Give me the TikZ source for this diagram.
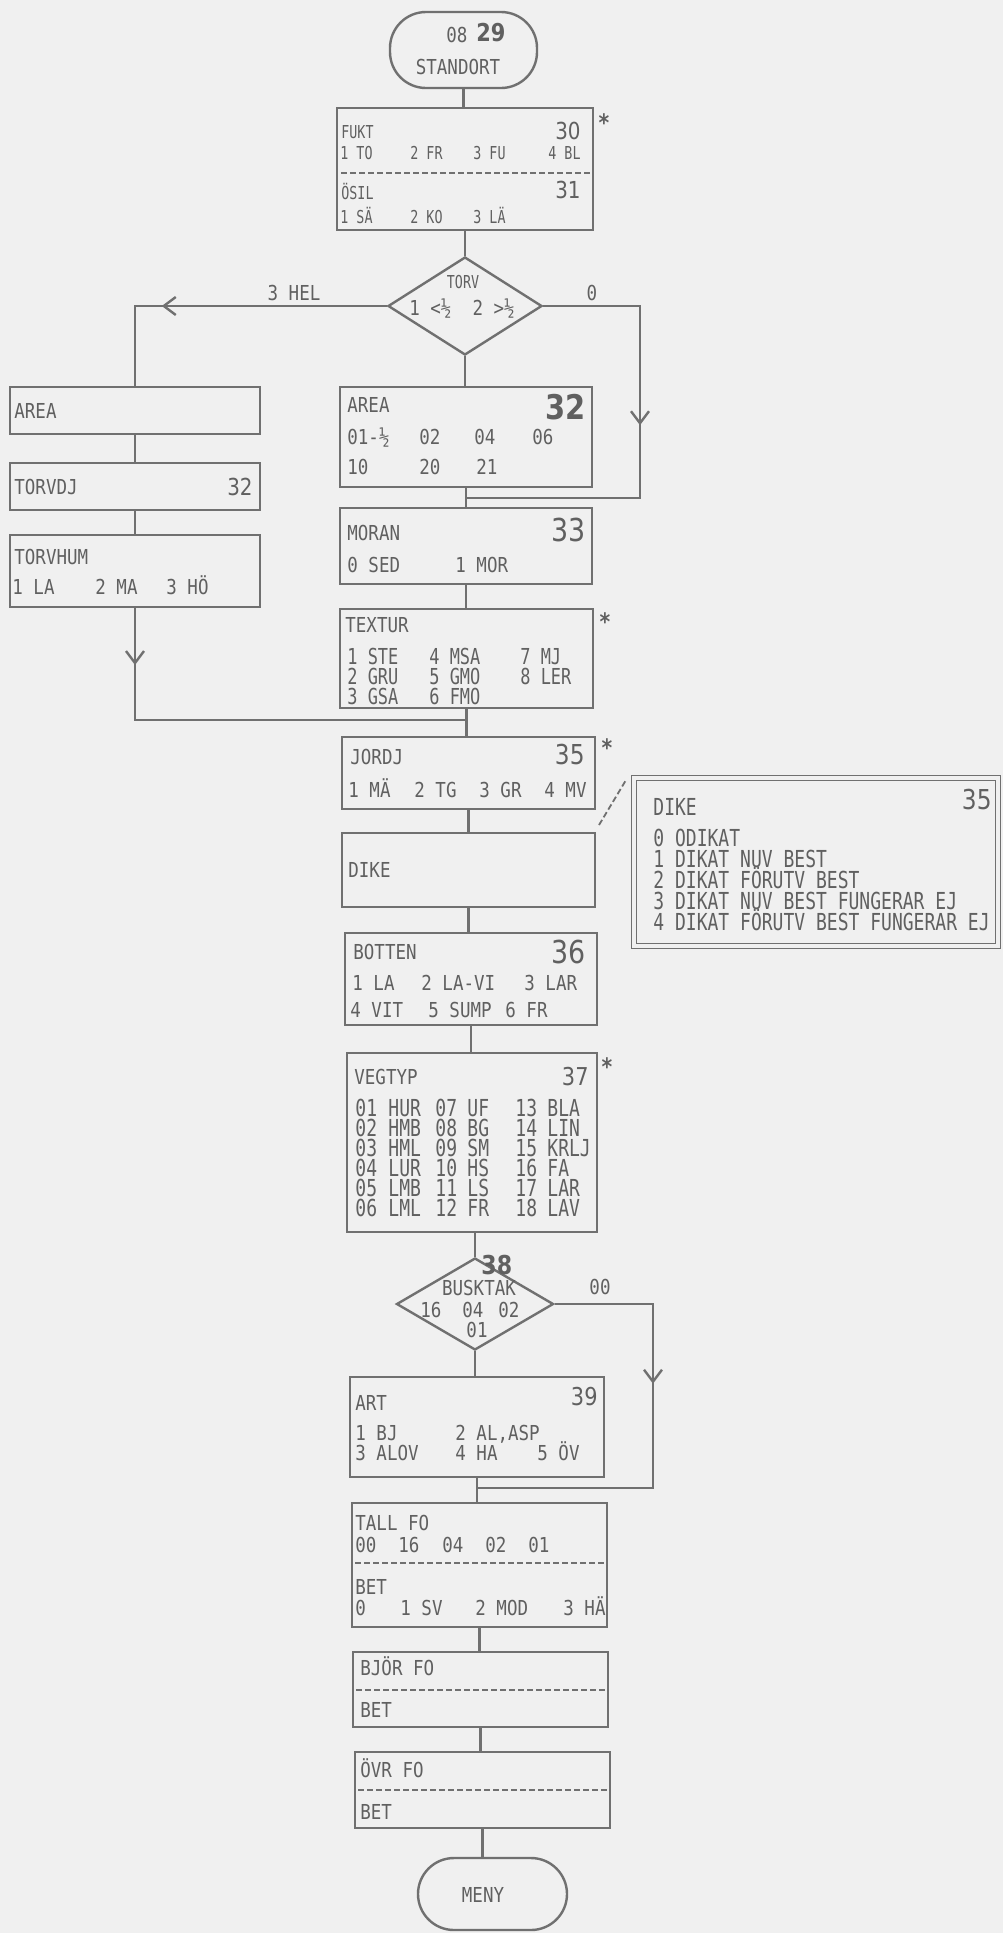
\documentclass[tikz,border=0pt]{standalone}
\usepackage{fontspec}
\usetikzlibrary{shapes.geometric,arrows.meta,decorations.markings}
\newfontfamily\fa[FakeStretch=0.85]{DejaVu Sans Mono}
\newfontfamily\fs[FakeStretch=0.75]{DejaVu Sans Mono}
\newfontfamily\fc[FakeStretch=0.77]{DejaVu Sans Mono}
\newfontfamily\fn[FakeStretch=0.85]{DejaVu Sans}
\definecolor{bgc}{RGB}{240,240,240}
\definecolor{lc}{RGB}{112,112,112}
\definecolor{tc}{RGB}{96,96,96}
\tikzset{
  ln/.style={color=lc,line width=1.2pt},
  dl/.style={color=lc,line width=0.9pt,dash pattern=on 3pt off 1.5pt},
  box/.style={draw=lc,line width=1.2pt,inner sep=0pt,outer sep=0pt},
  term/.style={box,rounded corners=18pt},
  tA/.style={text=tc,inner sep=0pt,anchor=west,text height=7.5pt,text depth=0pt,font=\fa\fontsize{10.3pt}{10.5pt}\selectfont},
  tB/.style={text=tc,inner sep=0pt,anchor=west,text height=6.5pt,text depth=0pt,font=\fs\fontsize{8.9pt}{9pt}\selectfont},
  tD/.style={text=tc,inner sep=0pt,anchor=west,text height=8.5pt,text depth=0pt,font=\fc\fontsize{11.7pt}{12pt}\selectfont},
  tE/.style={text=tc,inner sep=0pt,anchor=west,text height=8pt,text depth=0pt,font=\fc\fontsize{11pt}{11pt}\selectfont},
  num/.style={text=tc,inner sep=0pt,anchor=east,font=\fn\fontsize{#1}{#1}\selectfont},
  bnum/.style={text=tc,inner sep=0pt,anchor=east,font=\fn\bfseries\fontsize{#1}{#1}\selectfont},
  ast/.style={text=tc,inner sep=0pt,font=\fa\bfseries\fontsize{12pt}{12pt}\selectfont},
  chev/.style={postaction={decorate},decoration={markings,mark=at position #1 with {\arrow{Straight Barb[length=6pt,width=9pt,line width=1.2pt]}}}},
}
\newcommand\bx[5]{\node[box,minimum width={(#4-#2)*0.5pt},minimum height={(#5-#3)*0.5pt}] (#1) at ({(#2+#4)/2},{(#3+#5)/2}) {};}
% column of single-line nodes: style, name prefix, x, first y, step, list
\newcommand\col[6]{\foreach \s [count=\i from 0] in {#6} {\node[#1] (#2\i) at (#3,{#4+\i*#5}) {\s};}}
\begin{document}
\begin{tikzpicture}[x=0.5pt,y=-0.5pt]
\fill[bgc] (0,0) rectangle (1003,1933);
\useasboundingbox (0,0) rectangle (1003,1933);

% ---------- shapes ----------
\node[term,minimum width=73.5pt,minimum height=38pt] (st) at (463.5,50) {};
\bx{fukt}{337}{108}{593}{230}
\node[draw=lc,line width=1.2pt,diamond,inner sep=0pt,minimum width=77pt,minimum height=49pt] (torv) at (465,306) {};
\bx{areaL}{10}{387}{260}{434}
\bx{tdj}{10}{463}{260}{510}
\bx{thum}{10}{535}{260}{607}
\bx{area}{340}{387}{592}{487}
\bx{moran}{340}{508}{592}{584}
\bx{textur}{340}{609}{593}{708}
\bx{jordj}{342}{737}{595}{809}
\bx{dike}{342}{833}{595}{907}
\node[box,double=bgc,double distance=1.6pt,line width=0.7pt,minimum width=182pt,minimum height=84pt] (dinfo) at (816,862) {};
\bx{botten}{345}{933}{597}{1025}
\bx{veg}{347}{1053}{597}{1232}
\node[draw=lc,line width=1.2pt,diamond,inner sep=0pt,minimum width=78.5pt,minimum height=46pt] (busk) at (475,1304) {};
\bx{art}{350}{1377}{604}{1477}
\bx{tall}{352}{1503}{607}{1627}
\bx{bjor}{353}{1652}{608}{1727}
\bx{ovr}{355}{1752}{610}{1828}
\node[term,minimum width=74.5pt,minimum height=36pt] (meny) at (492.5,1894) {};

% ---------- connectors ----------
\draw[ln] (st.south) -- (st.south |- fukt.north);
\draw[ln] (fukt.south) -- (torv.north);
\draw[ln] (torv.south) -- (torv.south |- area.north);
\draw[ln,chev=112.5pt] (torv.west) -| (areaL.north);
\draw[ln] (areaL.south) -- (tdj.north);
\draw[ln] (tdj.south) -- (thum.north);
\coordinate (jL) at (466,720);
\draw[ln,chev=29pt] (thum.south) |- (jL);
\coordinate (cR) at (640,498);
\coordinate (jR) at (466,498);
\draw[ln,chev=108pt] (torv.east) -| (cR) -- (jR);
\draw[ln] (area.south) -- (moran.north);
\draw[ln] (moran.south) -- (moran.south |- textur.north);
\draw[ln] (textur.south) -- (textur.south |- jordj.north);
\draw[ln] (jordj.south) -- (dike.north);
\draw[ln] (dike.south) -- (dike.south |- botten.north);
\draw[ln] (botten.south) -- (botten.south |- veg.north);
\draw[ln] (busk.north |- veg.south) -- (busk.north);
\draw[ln] (busk.south) -- (busk.south |- art.north);
\coordinate (cB) at (653,1488);
\coordinate (jB) at (478,1488);
\draw[ln,chev=89pt] (busk.east) -| (cB) -- (jB);
\draw[ln] (art.south) -- (art.south |- tall.north);
\draw[ln] (tall.south) -- (tall.south |- bjor.north);
\draw[ln] (bjor.south) -- (bjor.south |- ovr.north);
\draw[ln] (ovr.south) -- (ovr.south |- meny.north);
\draw[dl] ([shift={(4,-8)}]dike.north east) -- ([shift={(-8,2)}]dinfo.north west);

% dashed separators
\draw[dl] (341,173) -- (590,173);
\draw[dl] (355,1563) -- (605,1563);
\draw[dl] (356,1690) -- (606,1690);
\draw[dl] (358,1790) -- (608,1790);

% ---------- texts ----------
\node[tA] (t08) at (446,35) {08};
\node[bnum=12.3pt,anchor=west] (t29) at (476,33) {29};
\node[tA,anchor=center] (tst) at (458,67) {STANDORT};

\node[tB] (fk1) at (341,132) {FUKT};
\node[num=11.7pt] (n30) at (581,131) {30};
\node[tB] (fk2) at (340,153) {1 TO};
\node[tB] (fk3) at (410,153) {2 FR};
\node[tB] (fk4) at (473,153) {3 FU};
\node[tB] (fk5) at (548,153) {4 BL};
\node[tB] (os1) at (341,193) {ÖSIL};
\node[num=11.7pt] (n31) at (581,190) {31};
\node[tB] (os2) at (340,217) {1 SÄ};
\node[tB] (os3) at (410,217) {2 KO};
\node[tB] (os4) at (473,217) {3 LÄ};
\node[ast] (a1) at (604,123) {*};

\node[tB,anchor=center] (tv1) at (463,282) {TORV};
\node[tA,anchor=center] (tv2) at (462,308) {1 <½~~2 >½};
\node[tA,anchor=center] (lh) at (294,293) {3 HEL};
\node[tA,anchor=center] (l0) at (592,293) {0};

\node[tA] (al1) at (14,411) {AREA};
\node[tA] (td1) at (14,487) {TORVDJ};
\node[num=11.7pt] (n32a) at (253,487) {32};
\node[tA] (th1) at (14,557) {TORVHUM};
\node[tA] (th2) at (12,587) {1 LA};
\node[tA] (th3) at (95,587) {2 MA};
\node[tA] (th4) at (166,587) {3 HÖ};

\node[tA] (ar1) at (347,405) {AREA};
\node[bnum=17pt] (n32) at (586,407) {32};
\node[tA] (ar2) at (347,437) {01-½};
\node[tA] (ar3) at (419,437) {02};
\node[tA] (ar4) at (474,437) {04};
\node[tA] (ar5) at (532,437) {06};
\node[tA] (ar6) at (347,467) {10};
\node[tA] (ar7) at (419,467) {20};
\node[tA] (ar8) at (476,467) {21};

\node[tA] (mo1) at (347,533) {MORAN};
\node[num=15.8pt] (n33) at (586,530) {33};
\node[tA] (mo2) at (347,565) {0 SED};
\node[tA] (mo3) at (455,565) {1 MOR};

\node[tA] (tx1) at (345,625) {TEXTUR};
\col{tE}{txa}{347}{656}{20}{1 STE,2 GRU,3 GSA}
\col{tE}{txb}{429}{656}{20}{4 MSA,5 GMO,6 FMO}
\col{tE}{txc}{520}{656}{20}{7 MJ,8 LER}
\node[ast] (a2) at (605,622) {*};

\node[tA] (jo1) at (350,757) {JORDJ};
\node[num=13.7pt] (n35) at (585,755) {35};
\node[tA] (jo2) at (348,790) {1 MÄ};
\node[tA] (jo3) at (414,790) {2 TG};
\node[tA] (jo4) at (479,790) {3 GR};
\node[tA] (jo5) at (544,790) {4 MV};
\node[ast] (a3) at (607,748) {*};

\node[tA] (dk1) at (348,870) {DIKE};

\node[tD] (di1) at (653,807) {DIKE};
\node[num=13.7pt] (n35b) at (992,800) {35};
\col{tD}{dl}{653}{838}{21}{0 ODIKAT,1 DIKAT NUV BEST,2 DIKAT FÖRUTV BEST,3 DIKAT NUV BEST FUNGERAR EJ,4 DIKAT FÖRUTV BEST FUNGERAR EJ}

\node[tA] (bo1) at (353,952) {BOTTEN};
\node[num=15.8pt] (n36) at (586,952) {36};
\node[tA] (bo2) at (352,983) {1 LA};
\node[tA] (bo3) at (421,983) {2 LA-VI};
\node[tA] (bo4) at (524,983) {3 LAR};
\node[tA] (bo5) at (350,1010) {4 VIT};
\node[tA] (bo6) at (428,1010) {5 SUMP};
\node[tA] (bo7) at (505,1010) {6 FR};

\node[tA] (vg1) at (354,1077) {VEGTYP};
\node[num=12.3pt] (n37) at (589,1077) {37};
\col{tD}{vga}{355}{1108}{20}{01,02,03,04,05,06}
\col{tD}{vgb}{388}{1108}{20}{HUR,HMB,HML,LUR,LMB,LML}
\col{tD}{vgc}{435}{1108}{20}{07,08,09,10,11,12}
\col{tD}{vgd}{467}{1108}{20}{UF,BG,SM,HS,LS,FR}
\col{tD}{vge}{515}{1108}{20}{13,14,15,16,17,18}
\col{tD}{vgf}{547}{1108}{20}{BLA,LIN,KRLJ,FA,LAR,LAV}
\node[ast] (a4) at (607,1067) {*};

\node[bnum=13pt,anchor=west] (n38) at (481,1265) {38};
\node[tA,anchor=center] (bu1) at (479,1288) {BUSKTAK};
\node[tA] (bu2) at (420,1310) {16};
\node[tA] (bu3) at (462,1310) {04};
\node[tA] (bu4) at (498,1310) {02};
\node[tA,anchor=center] (bu5) at (477,1330) {01};
\node[tA,anchor=center] (l00) at (600,1287) {00};

\node[tA] (at1) at (355,1403) {ART};
\node[num=12.3pt] (n39) at (598,1397) {39};
\node[tA] (at2) at (355,1433) {1 BJ};
\node[tA] (at3) at (455,1433) {2 AL,ASP};
\node[tA] (at4) at (355,1453) {3 ALOV};
\node[tA] (at5) at (455,1453) {4 HA};
\node[tA] (at6) at (537,1453) {5 ÖV};

\node[tA] (tl1) at (355,1523) {TALL FO};
\node[tA] (tl2) at (355,1545) {00};
\node[tA] (tl3) at (398,1545) {16};
\node[tA] (tl4) at (442,1545) {04};
\node[tA] (tl5) at (485,1545) {02};
\node[tA] (tl6) at (528,1545) {01};
\node[tA] (tl7) at (355,1587) {BET};
\node[tA] (tl8) at (355,1608) {0};
\node[tA] (tl9) at (400,1608) {1 SV};
\node[tA] (tl10) at (475,1608) {2 MOD};
\node[tA] (tl11) at (563,1608) {3 HÄ};

\node[tA] (bj1) at (360,1668) {BJÖR FO};
\node[tA] (bj2) at (360,1710) {BET};
\node[tA] (ov1) at (360,1770) {ÖVR FO};
\node[tA] (ov2) at (360,1812) {BET};
\node[tA,anchor=center] (mn) at (483,1895) {MENY};
\end{tikzpicture}
\end{document}
